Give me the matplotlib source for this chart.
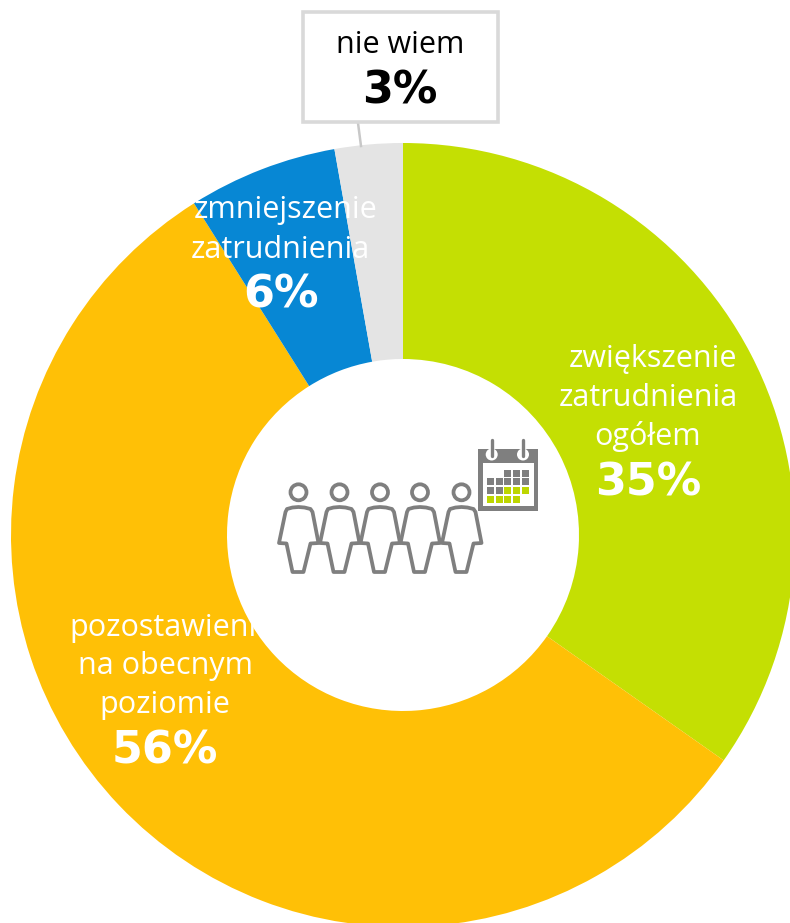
import matplotlib
matplotlib.use('Agg')
import matplotlib.pyplot as plt
from matplotlib.patches import Circle, Polygon, Rectangle, FancyBboxPatch

W, H = 790, 923
values = [34.75, 56.3, 6.15, 2.8]
pie_colors = ['#c4df03', '#ffc006', '#0787d4', '#e4e4e4']
percents = ['35%', '56%', '6%', '3%']
label_lines = [['zwiększenie', 'zatrudnienia', 'ogółem'],
               ['pozostawienie', 'na obecnym', 'poziomie'],
               ['zmniejszenie', 'zatrudnienia'],
               ['nie wiem']]

# text layout in picture pixels: x centre and baseline of each line
line_x = [[653, 648, 648], [172, 165, 165], [285.5, 280.5], [400.5]]
line_y = [[367, 406, 445], [636, 674, 713], [218, 258], [53]]
pct_x = [648, 165, 280.5, 400]
pct_y = [495, 763, 307, 103]
label_color = ['white', 'white', 'white', 'black']

GREY = '#7f7f7f'
GREEN = '#bdd600'
person_heads = [298.5, 339.5, 380, 420, 461.5]
# calendar cells, 0 grey 1 green, None empty
calendar = [[None, None, 0, 0, 0],
            [0, 0, 0, 0, 0],
            [0, 0, 1, 1, 1],
            [1, 1, 1, 1, None]]
cal_cols = [487, 495.7, 504, 512.7, 521.7]
cal_rows = [470, 478.3, 487, 496]


def py(y):
    """picture pixel y to axes y"""
    return H - y


def draw_person(ax, cx):
    head_y = 492.3
    ax.add_patch(Circle((cx, py(head_y)), 8, fc='white', ec=GREY, lw=2.7, zorder=3))
    outline = [(-6, 507.5), (0, 507), (6, 507.5), (12, 509), (14, 512), (20, 543), (12, 543.5),
               (5, 572), (-6, 572), (-12, 543.5), (-19.5, 543), (-13, 512), (-11.5, 509)]
    pts = [(cx + dx, py(y)) for dx, y in outline]
    ax.add_patch(Polygon(pts, closed=True, fc='none', ec=GREY, lw=2.7, joinstyle='round', zorder=3))


def draw_calendar(ax):
    ax.add_patch(Rectangle((477.5, py(511)), 60.5, 62.5, fc=GREY, ec='none', zorder=3))
    ax.add_patch(Rectangle((482.5, py(506)), 51, 43, fc='white', ec='none', zorder=4))
    for x in [491.7, 523]:
        ax.add_patch(Circle((x, py(454.5)), 6, fc='white', ec='none', zorder=4))
        ax.plot([x, x], [py(440), py(456)], color=GREY, lw=2.4, solid_capstyle='round', zorder=5)
    for row, top in zip(calendar, cal_rows):
        for cell, left in zip(row, cal_cols):
            if cell is None:
                continue
            ax.add_patch(Rectangle((left, py(top + 7)), 7.3, 7, fc=GREEN if cell else GREY,
                                   ec='none', zorder=5))


fig = plt.figure(figsize=(W / 100, H / 100), dpi=100)
ax = fig.add_axes([0, 0, 1, 1])
ax.pie(values, colors=pie_colors, startangle=90, counterclock=False, radius=392,
       center=(403, py(535)), frame=False,
       wedgeprops=dict(width=216, edgecolor='none'))
ax.set_xlim(0, W)
ax.set_ylim(0, H)
ax.set_aspect('equal')
ax.axis('off')

# leader line and box for the small slice
ax.plot([358, 361], [py(123), py(146)], color='#c8c8c8', lw=1.8, zorder=1)
ax.add_patch(FancyBboxPatch((303, py(122)), 195, 110, boxstyle='square,pad=0', fc='white',
                            ec='#d9d9d9', lw=2.6, zorder=2))

for lines, xs, ys, c in zip(label_lines, line_x, line_y, label_color):
    for line, x, y in zip(lines, xs, ys):
        ax.text(x, py(y), line, color=c, fontsize=22, ha='center', va='baseline',
                family='Open Sans', zorder=6)
for pct, x, y, c in zip(percents, pct_x, pct_y, label_color):
    ax.text(x, py(y), pct, color=c, fontsize=32, fontweight='bold', ha='center',
            va='baseline', family='DejaVu Sans', zorder=6)

for cx in person_heads:
    draw_person(ax, cx)
draw_calendar(ax)

fig.savefig('out.png', dpi=100)
